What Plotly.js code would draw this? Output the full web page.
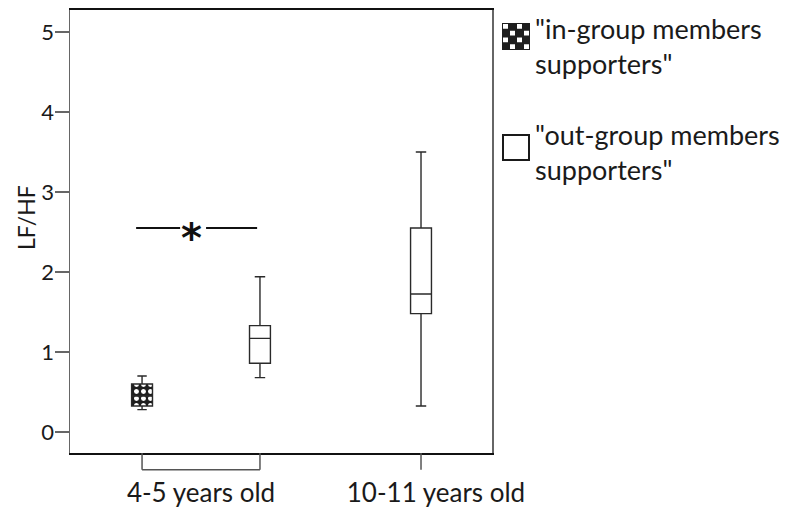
<!DOCTYPE html>
<html>
<head>
<meta charset="utf-8">
<script src="https://cdn.plot.ly/plotly-3.0.1.min.js"></script>
<style>
  html, body { margin: 0; padding: 0; background: #fff; }
  #chart { width: 793px; height: 509px; }
</style>
</head>
<body>
<div id="chart"></div>
<script>
// ---- data ----
const ageGroups = ['4-5 years old', '10-11 years old'];

const inGroupName = '"in-group members<br>supporters"';
const inGroupAges = ['4-5 years old'];
const inGroupLower = [0.28];
const inGroupQ1 = [0.325];
const inGroupMedian = [0.45];
const inGroupQ3 = [0.60];
const inGroupUpper = [0.70];

const outGroupName = '"out-group members<br>supporters"';
const outGroupAges = ['4-5 years old', '10-11 years old'];
const outGroupLower = [0.68, 0.325];
const outGroupQ1 = [0.86, 1.48];
const outGroupMedian = [1.17, 1.725];
const outGroupQ3 = [1.33, 2.55];
const outGroupUpper = [1.94, 3.50];

const yTickVals = [0, 1, 2, 3, 4, 5];
const yTitle = 'LF/HF';
const sigLabel = '*';

// ---- layout helpers ----
const FONT = 'Lato, "Open Sans", sans-serif';
const TXT = '#1a1a1a';
const W = 793, H = 509;
const M = { l: 70, r: 301, t: 10, b: 56 };
const PW = W - M.l - M.r, PH = H - M.t - M.b;
const px2x = p => (p - M.l) / PW;        // pixel -> paper x
const px2y = p => (H - M.b - p) / PH;    // pixel -> paper y

const clusterOffset = 0.268;
const boxWidth = 0.095;
function catIndex(a) { return ageGroups.indexOf(a); }
function hasBoth(a) { return inGroupAges.includes(a) && outGroupAges.includes(a); }
const inX = inGroupAges.map(a => catIndex(a) - (hasBoth(a) ? clusterOffset : 0));
const outX = outGroupAges.map(a => catIndex(a) + (hasBoth(a) ? clusterOffset : 0));

const traces = [
  { // checkered fill of the in-group box
    type: 'bar', x: inX, base: inGroupQ1,
    y: inGroupQ3.map((q, i) => q - inGroupQ1[i]),
    width: boxWidth, name: inGroupName, showlegend: false,
    marker: { color: '#1e1e1e', line: { width: 0 },
      pattern: { shape: '.', fgcolor: '#ffffff', bgcolor: '#1e1e1e', size: 7, solidity: 0.4, fillmode: 'replace' } },
    hoverinfo: 'skip'
  },
  {
    type: 'box', x: inX, q1: inGroupQ1, median: inGroupMedian, q3: inGroupQ3,
    lowerfence: inGroupLower, upperfence: inGroupUpper,
    width: boxWidth, whiskerwidth: 0.45, fillcolor: 'rgba(0,0,0,0)',
    line: { color: '#2a2a2a', width: 1.4 }, showlegend: false, name: inGroupName
  },
  {
    type: 'box', x: outX, q1: outGroupQ1, median: outGroupMedian, q3: outGroupQ3,
    lowerfence: outGroupLower, upperfence: outGroupUpper,
    width: boxWidth, whiskerwidth: 0.5, fillcolor: '#ffffff',
    line: { color: '#2a2a2a', width: 1.4 }, showlegend: false, name: outGroupName
  }
];

const pairL = inX[0], pairR = outX[0];
const tickCol = '#555';
const shapes = [
  // bracket under the 4-5 cluster
  { type: 'line', xref: 'x', yref: 'paper', x0: pairL, x1: pairL, y0: 0, y1: -0.038, line: { color: tickCol, width: 1.5 } },
  { type: 'line', xref: 'x', yref: 'paper', x0: pairR, x1: pairR, y0: 0, y1: -0.038, line: { color: tickCol, width: 1.5 } },
  { type: 'line', xref: 'x', yref: 'paper', x0: pairL, x1: pairR, y0: -0.038, y1: -0.038, line: { color: tickCol, width: 1.5 } },
  // tick for 10-11
  { type: 'line', xref: 'x', yref: 'paper', x0: outX[1], x1: outX[1], y0: 0, y1: -0.038, line: { color: tickCol, width: 1.5 } },
  // significance line
  { type: 'line', xref: 'x', yref: 'y', x0: -0.295, x1: -0.095, y0: 2.55, y1: 2.55, line: { color: '#111', width: 2 } },
  { type: 'line', xref: 'x', yref: 'y', x0: 0.023, x1: 0.255, y0: 2.55, y1: 2.55, line: { color: '#111', width: 2 } }
];

// ---- hand-drawn legend (large icons as in the reference) ----
const ck = { x0: 502, y0: 23, n: 4, cw: 7, ch: 6.75 };
shapes.push({ type: 'rect', xref: 'paper', yref: 'paper',
  x0: px2x(ck.x0), x1: px2x(ck.x0 + ck.n * ck.cw), y0: px2y(ck.y0), y1: px2y(ck.y0 + ck.n * ck.ch),
  fillcolor: '#1e1e1e', line: { width: 0 } });
for (let r = 0; r < ck.n; r++) {
  for (let c = 0; c < ck.n; c++) {
    if ((r + c) % 2 === 0) {
      shapes.push({ type: 'rect', xref: 'paper', yref: 'paper',
        x0: px2x(ck.x0 + c * ck.cw + 1), x1: px2x(ck.x0 + (c + 1) * ck.cw - 1),
        y0: px2y(ck.y0 + r * ck.ch + 1), y1: px2y(ck.y0 + (r + 1) * ck.ch - 1),
        fillcolor: '#ffffff', line: { width: 0 } });
    }
  }
}
shapes.push({ type: 'rect', xref: 'paper', yref: 'paper',
  x0: px2x(503), x1: px2x(529), y0: px2y(135), y1: px2y(160),
  fillcolor: '#ffffff', line: { color: '#1a1a1a', width: 2 } });

const annotations = [
  { x: -0.041, y: 2.55, xref: 'x', yref: 'y', text: sigLabel, showarrow: false,
    font: { size: 40, family: 'DejaVu Sans', color: '#111', weight: 'bold' }, yshift: -10 },
  { x: px2x(26), y: px2y(218), xref: 'paper', yref: 'paper', text: yTitle, textangle: -90,
    showarrow: false, xanchor: 'center', yanchor: 'middle',
    font: { size: 23, family: FONT, color: TXT } },
  { x: px2x(533), y: px2y(10), xref: 'paper', yref: 'paper', text: inGroupName,
    showarrow: false, xanchor: 'left', yanchor: 'top', align: 'left',
    font: { size: 27, family: FONT, color: TXT } },
  { x: px2x(533), y: px2y(116), xref: 'paper', yref: 'paper', text: outGroupName,
    showarrow: false, xanchor: 'left', yanchor: 'top', align: 'left',
    font: { size: 27, family: FONT, color: TXT } }
];

const layout = {
  width: W, height: H,
  margin: M,
  paper_bgcolor: '#fff', plot_bgcolor: '#fff',
  showlegend: false,
  barmode: 'overlay',
  boxmode: 'overlay',
  font: { family: FONT, color: TXT },
  xaxis: {
    range: [-0.5955, 1.3227], showgrid: false, zeroline: false,
    showline: true, linecolor: '#111', linewidth: 2, mirror: true,
    tickvals: [0, 1.068], ticktext: ageGroups,
    ticks: 'outside', ticklen: 16, tickcolor: 'rgba(0,0,0,0)',
    tickfont: { size: 26, family: FONT, color: TXT }
  },
  yaxis: {
    range: [-0.2625, 5.275], showgrid: false, zeroline: false,
    showline: true, linecolor: '#666', linewidth: 1.5, mirror: true,
    tickvals: yTickVals, ticks: 'outside', ticklen: 14, tickcolor: '#666', tickwidth: 1.5,
    ticklabelstandoff: -4,
    tickfont: { size: 22, family: FONT, color: TXT }
  },
  shapes: shapes,
  annotations: annotations
};

Plotly.newPlot('chart', traces, layout, { displayModeBar: false, staticPlot: true });
</script>
</body>
</html>
